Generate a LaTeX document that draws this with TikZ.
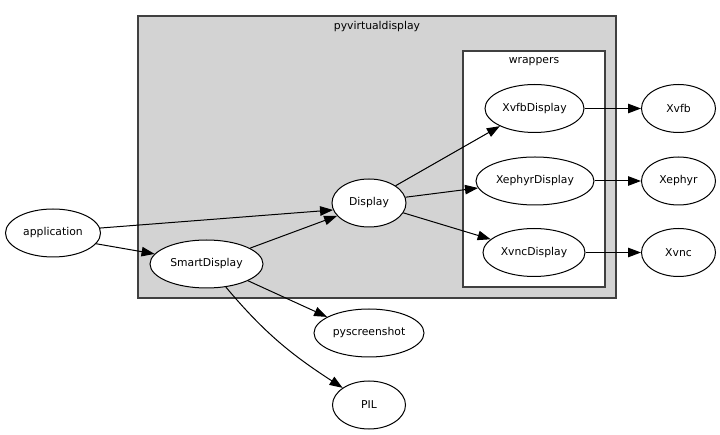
\documentclass[tikz,border=0pt]{standalone}
\usepackage{fontspec}
\setmainfont{DejaVu Sans}
\usetikzlibrary{shapes.geometric,arrows.meta}
\begin{document}
\begin{tikzpicture}[x=1pt,y=-1pt,
  nd/.style={ellipse,draw,fill=white,line width=1pt,minimum height=48pt,inner sep=0pt,font=\fontsize{10.8}{13}\selectfont},
  lbl/.style={inner sep=0pt,font=\fontsize{10.8}{13}\selectfont},
  edge/.style={line width=1pt,-{Triangle[length=13pt,width=9.5pt]}},
  clus/.style={draw=black!75,line width=1.3pt,inner sep=0pt}]
\useasboundingbox (0,0) rectangle (720,435);
% clusters
\node[clus,fill={rgb,255:red,211;green,211;blue,211},minimum width=478pt,minimum height=282pt] (pv) at (377,157) {};
\node[clus,fill=white,minimum width=142pt,minimum height=236pt] (wr) at (534,169) {};
\node[lbl] (pvl) at (377,27) {pyvirtualdisplay};
\node[lbl] (wrl) at (534,62) {wrappers};
% nodes
\node[nd,minimum width=95pt] (app) at (53,233) {application};
\node[nd,minimum width=113pt] (sd) at (206.5,264) {SmartDisplay};
\node[nd,minimum width=74pt] (disp) at (369,203) {Display};
\node[nd,minimum width=110pt] (pys) at (369,333) {pyscreenshot};
\node[nd,minimum width=73pt] (pil) at (369,405) {PIL};
\node[nd,minimum width=99pt] (xvfbd) at (534.5,108.5) {XvfbDisplay};
\node[nd,minimum width=118pt] (xephd) at (535,181) {XephyrDisplay};
\node[nd,minimum width=102pt] (xvncd) at (534,252.5) {XvncDisplay};
\node[nd,minimum width=74pt] (xvfb) at (678.5,108.5) {Xvfb};
\node[nd,minimum width=74pt] (xeph) at (678.5,181) {Xephyr};
\node[nd,minimum width=74pt] (xvnc) at (678.5,252.5) {Xvnc};
% edges
\draw[edge] (app.6) -- (disp.191);
\draw[edge] (app.-14) -- (sd.169);
\draw[edge] (sd.20) -- (disp.202);
\draw[edge] (sd.-22) -- (pys.159);
\draw[edge] (sd) to[out=-50,in=147] (pil);
\draw[edge] (disp.33) -- (xvfbd.207);
\draw[edge] (disp.9) -- (xephd.187);
\draw[edge] (disp.-16) -- (xvncd.163);
\draw[edge] (xvfbd) -- (xvfb);
\draw[edge] (xephd) -- (xeph);
\draw[edge] (xvncd) -- (xvnc);
\end{tikzpicture}
\end{document}
